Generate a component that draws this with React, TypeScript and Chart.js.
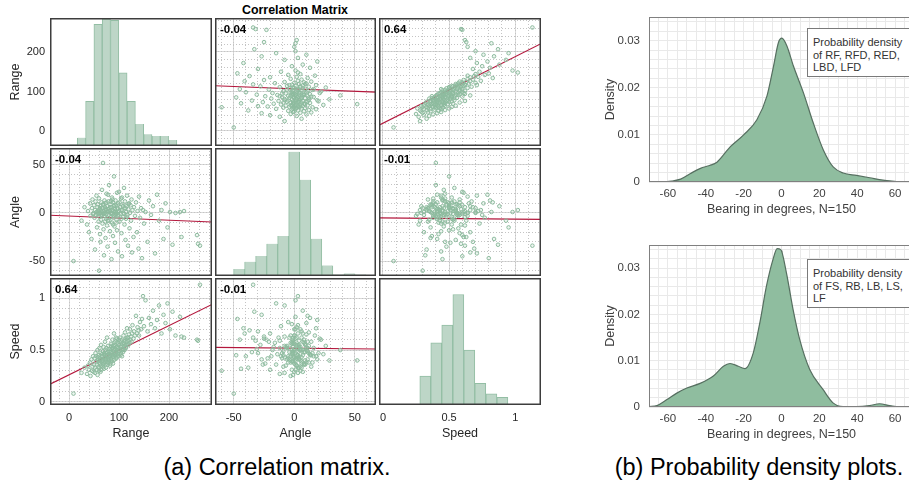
import React, { useEffect, useRef } from "react";
import { Chart, registerables } from "chart.js";

Chart.register(...registerables);

const FONT = "'Liberation Sans', Arial, Helvetica, sans-serif";
Chart.defaults.font.family = FONT;

// ---------------- Correlation matrix observations (Range, Angle, Speed) ----------------
const rangeVals = [
  9, 25, 31, 36, 38, 40, 42, 43, 45, 46,
  47, 48, 49, 50, 51, 52, 52, 53, 54, 55,
  55, 56, 57, 57, 58, 59, 59, 60, 60, 61,
  61, 62, 62, 63, 63, 64, 64, 65, 65, 66,
  66, 67, 67, 68, 68, 69, 69, 70, 70, 71,
  71, 72, 72, 73, 73, 74, 74, 75, 75, 76,
  76, 77, 77, 78, 78, 79, 80, 80, 81, 82,
  82, 83, 84, 84, 85, 85, 86, 86, 87, 87,
  88, 88, 89, 89, 90, 90, 91, 91, 92, 92,
  93, 93, 94, 95, 95, 96, 96, 97, 97, 98,
  98, 100, 101, 102, 103, 104, 105, 106, 106, 107,
  108, 109, 110, 111, 111, 112, 113, 114, 114, 115,
  116, 117, 118, 119, 120, 121, 122, 123, 124, 125,
  126, 127, 129, 130, 132, 134, 136, 137, 139, 140,
  142, 144, 146, 148, 150, 153, 157, 160, 164, 168,
  172, 176, 180, 185, 189, 193, 197, 202, 207, 213,
  222, 230, 225, 256, 258, 262, 62, 65, 68, 70,
  73, 75, 77, 79, 81, 83, 85, 87, 89, 91,
  93, 95, 97, 99, 101, 103, 105, 108, 110, 113,
  116, 119, 58, 72, 84, 94, 106, 78, 88, 100,
];
const angleVals = [
  -50, -8, 6, -12, 2, -20, 10, -3, -27, 5,
  14, -1, 0, 8, -5, 3, -38, 12, -2, 1,
  18, -15, 6, -1, 9, -9, 2, -60, 15, -4,
  4, -22, 0, 7, -30, 3, -7, 11, -2, 24,
  1, -11, 5, -1, 52, 8, -17, 2, -44, 13,
  -3, 0, 6, -26, 10, -6, 3, 20, -1, -13,
  7, 1, -35, 4, -8, 12, -2, 29, 5, -19,
  2, 9, -4, 0, -48, 6, 16, -10, 3, -1,
  11, -24, 2, -5, 38, 7, -14, 1, 4, -31,
  13, -2, 8, -7, 0, 21, -18, 5, -3, 10,
  -40, 2, -9, 6, -1, 15, -21, 3, -45, 9,
  -4, 0, 26, -12, 5, 12, -28, 1, -6, 7,
  18, -2, -34, 4, 10, -16, 0, 8, -8, 14,
  -41, 3, -25, 6, -3, 11, -20, 2, -37, 17,
  -5, 5, -47, 3, -11, 1, -30, 13, -2, 7,
  -42, 19, -8, 3, -27, 10, -15, 1, -33, 0,
  1, 2, -25, -23, -32, -34, 5, -3, 9, -1,
  4, 11, -5, 2, -8, 6, 0, 14, -3, 8,
  1, -10, 4, -2, 11, 3, -6, 7, -1, 5,
  -4, 9, 0, -9, 12, -1, 16, 19, -12, 22,
];
const speedVals = [
  0.08, 0.28, 0.33, 0.27, 0.35, 0.31, 0.38, 0.25, 0.41, 0.30,
  0.34, 0.44, 0.29, 0.36, 0.42, 0.28, 0.33, 0.47, 0.39, 0.31,
  0.44, 0.36, 0.50, 0.26, 0.40, 0.34, 0.45, 0.30, 0.38, 0.52,
  0.33, 0.42, 0.37, 0.29, 0.47, 0.55, 0.35, 0.41, 0.31, 0.46,
  0.39, 0.44, 0.34, 0.49, 0.40, 0.37, 0.53, 0.42, 0.32, 0.46,
  0.38, 0.58, 0.43, 0.36, 0.50, 0.41, 0.33, 0.47, 0.39, 0.62,
  0.45, 0.36, 0.48, 0.42, 0.54, 0.38, 0.46, 0.40, 0.51, 0.44,
  0.35, 0.48, 0.41, 0.56, 0.45, 0.39, 0.52, 0.47, 0.43, 0.60,
  0.49, 0.37, 0.54, 0.44, 0.50, 0.66, 0.46, 0.41, 0.55, 0.51,
  0.45, 0.58, 0.48, 0.53, 0.43, 0.61, 0.50, 0.46, 0.57, 0.52,
  0.44, 0.55, 0.49, 0.62, 0.53, 0.47, 0.58, 0.51, 0.60, 0.56,
  0.48, 0.64, 0.54, 0.59, 0.50, 0.67, 0.55, 0.61, 0.52, 0.58,
  0.71, 0.56, 0.62, 0.59, 0.65, 0.57, 0.70, 0.60, 0.63, 0.58,
  0.66, 0.74, 0.61, 0.68, 0.64, 0.83, 0.66, 0.72, 0.69, 0.64,
  0.77, 0.70, 0.80, 1.02, 0.73, 0.98, 0.68, 0.81, 0.75, 0.88,
  0.71, 0.79, 0.93, 0.66, 0.84, 0.76, 0.95, 0.70, 0.87, 0.64,
  0.82, 0.62, 0.63, 0.60, 0.59, 1.13, 0.40, 0.44, 0.36, 0.47,
  0.41, 0.52, 0.38, 0.49, 0.43, 0.37, 0.51, 0.45, 0.40, 0.57,
  0.47, 0.42, 0.53, 0.48, 0.58, 0.45, 0.54, 0.50, 0.57, 0.53,
  0.62, 0.55, 0.43, 0.45, 0.54, 0.62, 0.44, 0.41, 0.52, 0.60,
];

const varNames = ["Range", "Angle", "Speed"];
const varMin = [-38, -65.5, -0.03];
const varMax = [286, 67.5, 1.195];
const rangeTicks = [0, 100, 200];
const angleTicks = [-50, 0, 50];
const speedTicks = [0, 0.5, 1];
const minorStep = [20, 10, 0.1];

const corrText = [
  ["", "-0.04", "0.64"],
  ["-0.04", "", "-0.01"],
  ["0.64", "-0.01", ""],
];

// fitted line ends: [x1, y1, x2, y2] (x = column variable, y = row variable)
const fitLines = [
  [null, [-65.5, 114.5, 67.5, 98.5], [-0.03, 14.5, 1.195, 221]],
  [[-38, -2.4, 286, -9.4], null, [-0.03, -5.2, 1.195, -6.6]],
  [[-38, 0.17, 286, 0.94], [-65.5, 0.526, 67.5, 0.51], null],
];

// diagonal histograms: bin centres and bar tops (in the panel's own axis units)
const rangeHistCenters = [8.3, 24.9, 41.5, 58.1, 74.7, 91.3, 107.9, 124.5, 141.1, 157.7, 174.3, 190.9, 207.5];
const rangeHistTops = [-34, -17, 75, 270, 284, 280, 147, 75, 18, -8, -13, -13, -23];
const angleHistCenters = [-45.6, -36.5, -27.4, -18.3, -9.2, -0.1, 9.0, 18.2, 27.3, 36.4, 45.6, 54.7];
const angleHistTops = [-58.3, -50.7, -44.8, -32, -24, 63.5, 34.4, -26.8, -54.5, -63.9, -62.8, -63.9];
const speedHistCenters = [0.153, 0.236, 0.32, 0.403, 0.486, 0.57, 0.653, 0.736, 0.82, 0.903, 0.986, 1.07];
const speedHistTops = [-0.022, null, 0.25, 0.57, 0.74, 1.036, 0.5, 0.18, 0.077, 0.045, -0.022, -0.022];

// ---------------- Density plots ----------------
const bearingTicks = [-60, -40, -20, 0, 20, 40, 60];
const densityTicks = [0, 0.01, 0.02, 0.03];

const bearingA = [-63, -58, -53.3, -48.1, -42.8, -38, -34.1, -27, -20, -13, -7.7, -4.2, -1.6, 0.2, 2.8, 6.3, 11.6, 16.8, 22.1, 27.3, 32.6, 39.6, 46.6, 53.6, 60.6, 63];
const densityA = [0, 0.0002, 0.0006, 0.0018, 0.0029, 0.0035, 0.0042, 0.0075, 0.0100, 0.0132, 0.0182, 0.0246, 0.0296, 0.0305, 0.0289, 0.0246, 0.0189, 0.0125, 0.0068, 0.0032, 0.0019, 0.0014, 0.0009, 0.0004, 0.0001, 0];
const peakA = 0.0304;

const bearingB = [-70, -65.8, -60.5, -55.3, -50, -43, -36, -30.7, -27.2, -22.8, -19.3, -14.9, -11.4, -7.9, -4.4, -2.3, -0.4, 2.6, 6.1, 9.6, 14.9, 21.9, 27.2, 32.5, 39.5, 46.5, 51.8, 57.1, 62.4];
const densityB = [0.0001, 0.0003, 0.0016, 0.003, 0.0041, 0.0051, 0.0067, 0.0088, 0.0094, 0.0088, 0.0083, 0.0117, 0.0183, 0.0262, 0.032, 0.0342, 0.034, 0.029, 0.0211, 0.0146, 0.0081, 0.0038, 0.0009, 0.0001, 0.0001, 0.0003, 0.0007, 0.0003, 0];
const peakB = 0.0338;

// ---------------- layout ----------------
const colX = [50, 215, 379];
const colW = [162, 161, 162];
const rowY = [18, 148, 278];
const rowH = [128, 128, 127];
const LEFT_AXIS = 50;
const BOTTOM_AXIS = 40;

const decorPlugin: any = {
  id: "decor",
  afterDraw(chart: any, _args: any, opts: any) {
    const { ctx, chartArea: a } = chart;
    ctx.save();
    if (opts.label) {
      ctx.font = `bold ${opts.labelSize || 11.5}px ${FONT}`;
      ctx.fillStyle = "#000";
      ctx.textBaseline = "middle";
      ctx.textAlign = "left";
      ctx.fillText(opts.label, a.left + 5, a.top + 12);
    }
    if (opts.frameColor) {
      ctx.strokeStyle = opts.frameColor;
      ctx.lineWidth = opts.frameWidth || 1;
      const h = (opts.frameWidth || 1) / 2;
      ctx.strokeRect(a.left + h, a.top + h, a.right - a.left - 2 * h, a.bottom - a.top - 2 * h);
    }
    ctx.restore();
  },
};

const fixTicks = (list: number[]) => (s: any) => {
  s.ticks = list.map((v) => ({ value: v }));
};

// keep chart area exactly where the panel box is: no label overhang padding
const fitBox = (w?: number, h?: number) => (s: any) => {
  if (w !== undefined) s.width = w;
  if (h !== undefined) s.height = h;
  s.paddingTop = 0;
  s.paddingBottom = 0;
  s.paddingLeft = 0;
  s.paddingRight = 0;
};

function panelConfig(r: number, c: number): any {
  const vals = [rangeVals, angleVals, speedVals];
  const tickLists = [rangeTicks, angleTicks, speedTicks];
  const hist: any[] = [
    [rangeHistCenters, rangeHistTops],
    [angleHistCenters, angleHistTops],
    [speedHistCenters, speedHistTops],
  ];
  const diag = r === c;
  const leftCol = c === 0;
  const bottomRow = r === 2;
  const tickColor = "#262626";
  const tickFont = { family: FONT, size: 11 };
  const titleFont = { family: FONT, size: 12.5 };

  const scales: any = {
    x: {
      type: "linear",
      position: "bottom",
      min: varMin[c],
      max: varMax[c],
      offset: false,
      grid: { display: !diag, color: "#d9d9d9", lineWidth: 1, drawTicks: false, offset: false },
      border: { display: false },
      afterBuildTicks: fixTicks(tickLists[c]),
      ticks: {
        display: bottomRow,
        color: tickColor,
        font: tickFont,
        padding: 6,
        maxRotation: 0,
        autoSkip: false,
        callback: (v: number) => String(v),
      },
      title: { display: bottomRow, text: varNames[c], color: tickColor, font: titleFont, padding: { top: 0, bottom: 4 } },
      afterFit: fitBox(undefined, bottomRow ? BOTTOM_AXIS : undefined),
    },
    y: {
      type: "linear",
      position: "left",
      min: varMin[r],
      max: varMax[r],
      grid: { display: !diag, color: "#d9d9d9", lineWidth: 1, drawTicks: false },
      border: { display: false },
      afterBuildTicks: fixTicks(tickLists[r]),
      ticks: {
        display: leftCol,
        color: tickColor,
        font: tickFont,
        padding: 5,
        autoSkip: false,
        callback: (v: number) => String(v),
      },
      title: { display: leftCol, text: varNames[r], color: tickColor, font: titleFont, padding: { top: 8, bottom: 0 } },
      afterFit: fitBox(leftCol ? LEFT_AXIS : undefined, undefined),
    },
  };
  if (!diag) {
    scales.xm = {
      type: "linear",
      position: "bottom",
      min: varMin[c],
      max: varMax[c],
      grid: { color: "#c4c4c4", lineWidth: 1, drawTicks: false, borderDash: [1, 2] },
      border: { display: false, dash: [1, 2] },
      ticks: { display: false, stepSize: minorStep[c], includeBounds: false },
      afterFit: fitBox(),
    };
    scales.ym = {
      type: "linear",
      position: "left",
      min: varMin[r],
      max: varMax[r],
      grid: { color: "#c4c4c4", lineWidth: 1, drawTicks: false, borderDash: [1, 2] },
      border: { display: false, dash: [1, 2] },
      ticks: { display: false, stepSize: minorStep[r], includeBounds: false },
      afterFit: fitBox(),
    };
  }

  let datasets: any[];
  let type = "scatter";
  if (diag) {
    type = "bar";
    const [centers, tops] = hist[r];
    datasets = [
      {
        data: centers.map((x: number, i: number) => ({ x, y: tops[i] == null ? null : [varMin[r], tops[i]] })),
        backgroundColor: "#bdd6c7",
        borderColor: "#93bea4",
        borderWidth: 1,
        barPercentage: 1,
        categoryPercentage: 1,
      },
    ];
  } else {
    const f: any = fitLines[r][c];
    datasets = [
      {
        data: vals[c].map((x, i) => ({ x, y: vals[r][i] })),
        pointRadius: 1.8,
        pointBorderWidth: 1,
        borderColor: "#8dbb9e",
        backgroundColor: "rgba(141,187,158,0.15)",
      },
      {
        data: [
          { x: f[0], y: f[1] },
          { x: f[2], y: f[3] },
        ],
        showLine: true,
        pointRadius: 0,
        borderColor: "#b3173c",
        borderWidth: 1.2,
      },
    ];
  }

  return {
    type,
    data: { datasets },
    options: {
      responsive: false,
      animation: false,
      events: [],
      layout: { padding: 0, autoPadding: false },
      plugins: {
        legend: { display: false },
        tooltip: { enabled: false },
        decor: { frameColor: "#3d3d3d", frameWidth: 1.5, label: corrText[r][c] },
      },
      scales,
    },
    plugins: [decorPlugin],
  };
}

function densityConfig(xs: number[], ys: number[], peak: number): any {
  const tc = "#404040";
  return {
    type: "scatter",
    data: {
      datasets: [
        {
          data: xs.map((x, i) => ({ x, y: ys[i] })),
          showLine: true,
          fill: "origin",
          backgroundColor: "#8fbd9f",
          borderColor: "#566f60",
          borderWidth: 1.2,
          pointRadius: 0,
          cubicInterpolationMode: "monotone",
        },
        {
          data: [
            { x: 0, y: 0 },
            { x: 0, y: peak },
          ],
          showLine: true,
          fill: false,
          borderColor: "#4c5a52",
          borderWidth: 1.8,
          pointRadius: 0,
        },
      ],
    },
    options: {
      responsive: false,
      animation: false,
      events: [],
      layout: { padding: { top: 17, left: 0, right: 0, bottom: 0 }, autoPadding: false },
      plugins: {
        legend: { display: false },
        tooltip: { enabled: false },
        decor: { frameColor: "#808080", frameWidth: 1 },
      },
      scales: {
        x: {
          type: "linear",
          min: -70,
          max: 70,
          grid: { color: "#d3d3d3", drawTicks: false },
          border: { display: false },
          afterBuildTicks: fixTicks(bearingTicks),
          ticks: { color: tc, font: { family: FONT, size: 11.5 }, padding: 5, maxRotation: 0, autoSkip: false, callback: (v: number) => String(v) },
          title: { display: true, text: "Bearing in degrees, N=150", color: tc, font: { family: FONT, size: 12.5 }, padding: { top: 0, bottom: 5 } },
          afterFit: fitBox(undefined, 40),
        },
        xm: {
          type: "linear",
          position: "bottom",
          min: -70,
          max: 70,
          grid: { color: "#e9e9e9", drawTicks: false },
          border: { display: false },
          ticks: { display: false, stepSize: 5 },
          afterFit: fitBox(),
        },
        y: {
          type: "linear",
          position: "left",
          min: 0,
          max: 0.035,
          grid: { color: "#d3d3d3", drawTicks: false },
          border: { display: false },
          afterBuildTicks: fixTicks(densityTicks),
          ticks: { color: tc, font: { family: FONT, size: 11.5 }, padding: 9, autoSkip: false, callback: (v: number) => String(v) },
          title: { display: true, text: "Density", color: tc, font: { family: FONT, size: 12.5 }, padding: { top: 13, bottom: 0 } },
          afterFit: fitBox(59, undefined),
        },
        ym: {
          type: "linear",
          position: "left",
          min: 0,
          max: 0.035,
          grid: { color: "#e9e9e9", drawTicks: false },
          border: { display: false },
          ticks: { display: false, stepSize: 0.002, includeBounds: false },
          afterFit: fitBox(),
        },
      },
    },
    plugins: [decorPlugin],
  };
}

function ChartBox(props: { left: number; top: number; width: number; height: number; make: () => any }) {
  const ref = useRef<HTMLCanvasElement>(null);
  useEffect(() => {
    const chart = new Chart(ref.current as HTMLCanvasElement, props.make());
    return () => chart.destroy();
  }, []);
  return (
    <canvas
      ref={ref}
      width={props.width}
      height={props.height}
      style={{ position: "absolute", left: props.left, top: props.top, width: props.width, height: props.height }}
    />
  );
}

export default function App() {
  const panels: any[] = [];
  for (let r = 0; r < 3; r++) {
    for (let c = 0; c < 3; c++) {
      const left = c === 0 ? colX[0] - LEFT_AXIS : colX[c];
      const width = c === 0 ? colW[0] + LEFT_AXIS : colW[c];
      const height = r === 2 ? rowH[r] + BOTTOM_AXIS : rowH[r];
      panels.push(
        <ChartBox key={`p${r}${c}`} left={left} top={rowY[r]} width={width} height={height} make={() => panelConfig(r, c)} />
      );
    }
  }
  const legendStyle: any = {
    position: "absolute",
    left: 807,
    width: 130,
    height: 49,
    boxSizing: "border-box",
    border: "1px solid #7a7a7a",
    background: "#fff",
    padding: "7px 0 0 5px",
    font: `11px/12.5px ${FONT}`,
    color: "#333",
    whiteSpace: "nowrap",
  };
  const captionStyle: any = {
    position: "absolute",
    top: 467,
    transform: "translate(-50%, -50%)",
    font: `23.5px ${FONT}`,
    color: "#000",
    whiteSpace: "nowrap",
  };
  return (
    <div style={{ position: "fixed", left: 0, top: 0, width: 909, height: 494, overflow: "hidden", background: "#fff" }}>
      {panels}
      <div
        style={{
          position: "absolute",
          left: 295,
          top: 10,
          transform: "translate(-50%, -50%)",
          font: `bold 12.4px ${FONT}`,
          color: "#000",
          whiteSpace: "nowrap",
        }}
      >
        Correlation Matrix
      </div>
      <ChartBox left={590} top={0} width={324} height={222} make={() => densityConfig(bearingA, densityA, peakA)} />
      <ChartBox left={590} top={228} width={324} height={219} make={() => densityConfig(bearingB, densityB, peakB)} />
      <div style={{ ...legendStyle, top: 28 }}>
        Probability density
        <br />
        of RF, RFD, RED,
        <br />
        LBD, LFD
      </div>
      <div style={{ ...legendStyle, top: 259 }}>
        Probability density
        <br />
        of FS, RB, LB, LS,
        <br />
        LF
      </div>
      <div style={{ ...captionStyle, left: 277 }}>(a) Correlation matrix.</div>
      <div style={{ ...captionStyle, left: 759 }}>(b) Probability density plots.</div>
    </div>
  );
}
